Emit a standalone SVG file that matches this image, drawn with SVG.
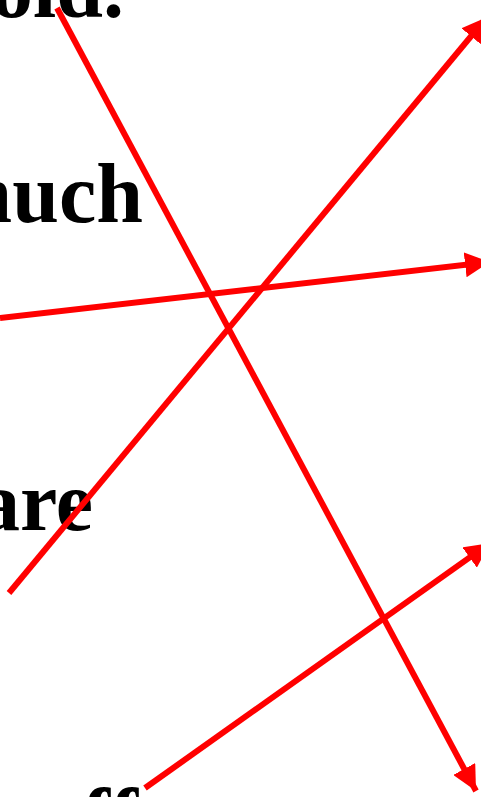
<svg xmlns="http://www.w3.org/2000/svg" width="481" height="797" viewBox="0 0 481 797">
<style>
.t{font-family:"Liberation Serif","Times New Roman",serif;font-weight:bold;font-size:84px;fill:#000;text-anchor:end}
.c{stroke:#ff0000;stroke-width:6;fill:none;marker-end:url(#ah)}
</style>
<defs>
<marker id="ah" viewBox="0 0 10 10" refX="10" refY="5" markerWidth="25" markerHeight="25" markerUnits="userSpaceOnUse" orient="auto">
<path d="M0,0 L10,5 L0,10 z" fill="#ff0000"/>
</marker>
</defs>
<rect width="481" height="797" fill="#fff"/>
<g id="w1"><text class="t" x="124" y="17">old.</text></g>
<g id="w2"><text class="t" x="143" y="222">much</text></g>
<g id="w3"><text class="t" x="93" y="530">are</text></g>
<g id="w4"><text class="t" x="138" y="847">off</text></g>
<g id="connectors">
<line class="c" x1="57" y1="8" x2="476" y2="791"/>
<line class="c" x1="9" y1="593" x2="487" y2="17"/>
<line class="c" x1="0" y1="318" x2="490" y2="262"/>
<line class="c" x1="145" y1="788" x2="490" y2="543"/>
</g>
</svg>
